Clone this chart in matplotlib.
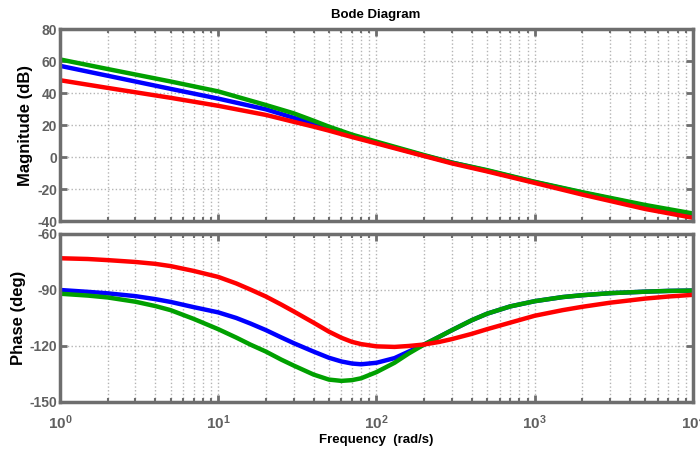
import matplotlib
matplotlib.use('Agg')
import matplotlib.pyplot as plt
from matplotlib.ticker import LogLocator, NullFormatter, FixedLocator

# magnitude data (dB)
w_mag = [1, 2, 5, 10, 20, 30, 40, 50, 70, 100, 200, 300, 500, 1000, 2000, 5000, 10000]
mag_blue = [57, 50.8, 42.6, 36.5, 29.8, 24.5, 21, 18.5, 13.5, 9, 0.9, -3.5, -8.5, -15.7, -22.3, -30.5, -36]
mag_green = [61, 55, 47.2, 41, 32.5, 27.3, 22.7, 19, 14, 9.6, 1.2, -3.5, -8.2, -15.5, -22, -30, -35.3]
mag_red = [48, 43.2, 37, 32, 26.3, 22, 19, 16.5, 12.5, 8.5, 0.6, -4, -9, -16.2, -23.5, -32.5, -38]

# phase data (deg)
w_ph = [1, 1.5, 2, 3, 4, 5, 7, 10, 13, 16, 20, 25, 30, 40, 50, 60, 70, 80, 100, 130, 160, 200,
        250, 300, 400, 500, 700, 1000, 1500, 2000, 3000, 5000, 7000, 10000]
ph_blue = [-90, -91, -91.8, -93.3, -94.9, -96.4, -99.2, -102, -105, -108, -111.5, -115.4, -118.5,
           -123, -126.3, -128.3, -129.4, -129.8, -129, -126.5, -123, -119.2,
           -115, -111.5, -106.2, -102.7, -98.8, -96, -93.8, -92.8, -91.7, -90.9, -90.5, -90.3]
ph_green = [-92, -93, -94, -96.3, -98.6, -100.8, -105.5, -111, -115.5, -119.3, -123, -127.3, -130.5,
            -135.3, -138, -138.7, -138.3, -137.3, -134, -129, -124, -119.2,
            -115, -111.5, -106.2, -102.7, -98.8, -96, -93.8, -92.8, -91.7, -90.9, -90.5, -90.3]
ph_red = [-73, -73.4, -74, -75, -76, -77.2, -79.8, -83, -86.5, -89.8, -93.5, -97.8, -101.5,
          -107.5, -112.3, -115.6, -117.8, -119, -120.2, -120.5, -120, -119.2,
          -117.8, -116.3, -113.5, -111, -107.5, -103.8, -100.8, -99, -96.8, -94.6, -93.5, -92.6]

mag_ticks = [-40, -20, 0, 20, 40, 60, 80]
ph_ticks = [-150, -120, -90, -60]

plt.rcParams['font.family'] = ['Liberation Sans', 'DejaVu Sans']
plt.rcParams['font.weight'] = 'bold'
plt.rcParams['mathtext.default'] = 'regular'
plt.rcParams['axes.unicode_minus'] = False

FRAME = '#6e6e6e'
TICKTXT = '#606060'
GRID = '#b4b4b4'

fig = plt.figure(figsize=(7, 4.57), dpi=100)
ax1 = fig.add_axes([0.0857, 0.5164, 0.9043, 0.4201])
ax2 = fig.add_axes([0.0857, 0.1204, 0.9043, 0.3676])


def style(ax, ticks, lims):
    ax.set_xscale('log')
    ax.set_xlim(1, 1e4)
    ax.set_ylim(*lims)
    ax.yaxis.set_major_locator(FixedLocator(ticks))
    ax.xaxis.set_major_locator(LogLocator(base=10, numticks=10))
    ax.xaxis.set_minor_locator(LogLocator(base=10, subs=range(2, 10), numticks=20))
    ax.xaxis.set_minor_formatter(NullFormatter())
    ax.grid(True, which='major', linestyle=':', color=GRID, linewidth=1.0)
    ax.grid(True, which='minor', axis='x', linestyle=':', color=GRID, linewidth=1.0)
    for s in ax.spines.values():
        s.set_color(FRAME)
        s.set_linewidth(2.5)
    ax.tick_params(which='both', direction='in', color=FRAME, top=True, right=True,
                   labelcolor=TICKTXT, labelsize=10)
    ax.tick_params(which='major', length=5, width=2, pad=2)
    ax.tick_params(which='minor', length=3, width=1.5)


style(ax1, mag_ticks, (-40, 80))
style(ax2, ph_ticks, (-150, -60))

lw = 3.2
ax1.plot(w_mag, mag_blue, color='#0000ff', lw=lw)
ax1.plot(w_mag, mag_green, color='#00a000', lw=lw)
ax1.plot(w_mag, mag_red, color='#ff0000', lw=lw)
ax2.plot(w_ph, ph_blue, color='#0000ff', lw=lw)
ax2.plot(w_ph, ph_green, color='#00a000', lw=lw)
ax2.plot(w_ph, ph_red, color='#ff0000', lw=lw)

ax1.tick_params(labelbottom=False)
ax2.tick_params(axis='x', labelsize=11, pad=8)

lab = dict(fontweight='bold', color='black')
fig.text(0.537, 0.967, 'Bode Diagram', ha='center', va='center', fontsize=9.5, **lab)
fig.text(0.036, 0.726, 'Magnitude (dB)', rotation=90, ha='center', va='center', fontsize=12, **lab)
fig.text(0.027, 0.304, 'Phase (deg)', rotation=90, ha='center', va='center', fontsize=12, **lab)
fig.text(0.537, 0.037, 'Frequency  (rad/s)', ha='center', va='center', fontsize=9.5, **lab)

fig.savefig('out.png', dpi=100)
